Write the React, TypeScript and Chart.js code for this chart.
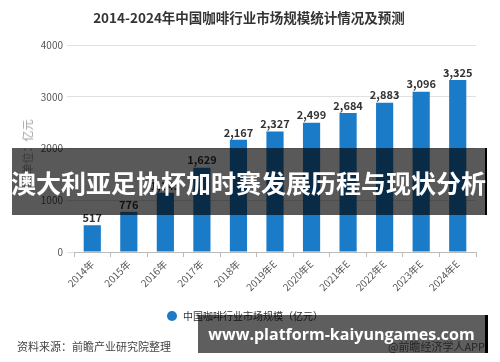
import React, { useEffect, useRef } from "react";
import { Chart, registerables } from "chart.js";

Chart.register(...registerables);

const categories = ["2014年", "2015年", "2016年", "2017年", "2018年", "2019年E", "2020年E", "2021年E", "2022年E", "2023年E", "2024年E"];
const marketSize = [517, 776, 1143, 1629, 2167, 2327, 2499, 2684, 2883, 3096, 3325];
const yTicks = [0, 1000, 2000, 3000, 4000];

const titleText = "2014-2024年中国咖啡行业市场规模统计情况及预测";
const seriesName = "中国咖啡行业市场规模（亿元）";
const yAxisTitle = "单位：亿元";
const sourceText = "资料来源：前瞻产业研究院整理";
const appText = "@前瞻经济学人APP";
const bannerText = "澳大利亚足协杯加时赛发展历程与现状分析";
const urlText = "www.platform-kaiyungames.com";

const BAR_COLOR = "#1a7bc9";
const FONT = "'Noto Sans CJK SC', 'Noto Sans', sans-serif";

const valueLabels = {
  id: "valueLabels",
  afterDatasetsDraw(chart: any) {
    const ctx = chart.ctx;
    const meta = chart.getDatasetMeta(0);
    ctx.save();
    ctx.font = `bold 11px ${FONT}`;
    ctx.fillStyle = "#333";
    ctx.textAlign = "center";
    ctx.textBaseline = "bottom";
    meta.data.forEach((bar: any, i: number) => {
      const v = chart.data.datasets[0].data[i];
      ctx.fillText(Number(v).toLocaleString("en-US"), bar.x, bar.y - 2);
    });
    ctx.restore();
  },
};

export default function App() {
  const ref = useRef<HTMLCanvasElement>(null);

  useEffect(() => {
    if (!ref.current) return;
    const chart = new Chart(ref.current, {
      type: "bar",
      data: {
        labels: categories,
        datasets: [
          {
            label: seriesName,
            data: marketSize,
            backgroundColor: BAR_COLOR,
            barPercentage: 0.47,
            categoryPercentage: 1,
          },
        ],
      },
      options: {
        responsive: false,
        animation: false,
        devicePixelRatio: 1,
        layout: { padding: { left: 0, right: 24, top: 45, bottom: 0 } },
        plugins: {
          legend: { display: false },
          title: { display: false },
          tooltip: { enabled: false },
        },
        scales: {
          x: {
            afterFit: (s: any) => {
              s.height = 110;
            },
            grid: { display: true, drawOnChartArea: false, drawTicks: true, tickLength: 5, color: "#bbb" },
            border: { display: true, color: "#bbb" },
            ticks: {
              autoSkip: false,
              maxRotation: 45,
              minRotation: 45,
              color: "#555",
              font: { size: 10, family: FONT },
              padding: 1,
            },
          },
          y: {
            min: 0,
            max: 4000,
            afterFit: (s: any) => {
              s.width = 74;
            },
            afterBuildTicks: (s: any) => {
              s.ticks = yTicks.map((v) => ({ value: v }));
            },
            grid: { color: "#e0e0e0", drawTicks: true, tickLength: 7 },
            border: { display: false },
            ticks: {
              color: "#555",
              font: { size: 10, family: FONT },
              padding: 4,
              callback: (v: any) => String(v),
            },
          },
        },
      },
      plugins: [valueLabels],
    });
    return () => chart.destroy();
  }, []);

  const abs: React.CSSProperties = { position: "absolute", whiteSpace: "nowrap", fontFamily: FONT };

  return (
    <div style={{ position: "absolute", left: 0, top: 0, width: 500, height: 362, background: "#fff", overflow: "hidden" }}>
      <canvas ref={ref} width={500} height={362} style={{ position: "absolute", left: 0, top: 0, width: 500, height: 362 }} />
      <div style={{ ...abs, left: 0, width: 498, top: 8, textAlign: "center", fontSize: 13.5, fontWeight: "bold", color: "#333", lineHeight: "18px" }}>
        {titleText}
      </div>
      <div style={{ ...abs, left: 27, top: 147, transform: "translate(-50%, -50%) rotate(-90deg)", fontSize: 11, color: "#999", lineHeight: "12px" }}>
        {yAxisTitle}
      </div>
      <div style={{ ...abs, left: 167, top: 311, width: 10, height: 10, borderRadius: 5, background: BAR_COLOR }} />
      <div style={{ ...abs, left: 183, top: 309, fontSize: 10, color: "#333", lineHeight: "14px" }}>{seriesName}</div>
      <div style={{ ...abs, left: 17, top: 338, fontSize: 11, color: "#444", lineHeight: "16px", letterSpacing: 0 }}>{sourceText}</div>
      <div style={{ ...abs, left: 388, top: 338, fontSize: 11, color: "#666", lineHeight: "16px" }}>{appText}</div>
      <div style={{ ...abs, left: 12, top: 148, width: 473, height: 67, background: "rgba(0,0,0,0.65)", borderRight: "2px solid #000", display: "flex", alignItems: "center", justifyContent: "center" }}>
        <span style={{ fontSize: 25, fontWeight: "bold", color: "#fff", lineHeight: "30px" }}>{bannerText}</span>
      </div>
      <div style={{ ...abs, left: 198, top: 315, width: 287, height: 38, background: "rgba(0,0,0,0.63)", borderRight: "3px solid #000", display: "flex", alignItems: "center", justifyContent: "center" }}>
        <span style={{ fontSize: 16, fontWeight: "bold", color: "#fff", lineHeight: "22px", fontFamily: "'Open Sans', 'Noto Sans', sans-serif" }}>{urlText}</span>
      </div>
    </div>
  );
}
